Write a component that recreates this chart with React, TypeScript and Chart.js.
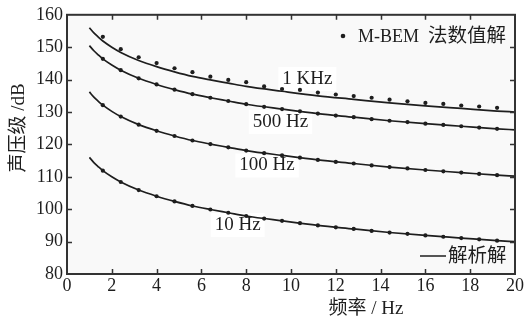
import React, { useEffect, useRef } from "react";
import { Chart, registerables } from "chart.js";

Chart.register(...registerables);

// Analytical solution (lines), frequency axis in Hz
const lineFreq = [1, 1.2, 1.4, 1.6, 2.0, 2.4, 3.2, 4.0, 4.8, 5.6, 6.4, 7.2, 8.0, 9.6, 11.2, 12.8, 14.4, 16.0, 17.6, 19.2, 20];
const line1k = [156.0, 154.4, 153.1, 151.9, 150.0, 148.4, 145.9, 144.0, 142.4, 141.0, 139.9, 138.9, 137.9, 136.4, 135.0, 133.9, 132.8, 131.9, 131.1, 130.3, 130.0];
const line500 = [150.5, 148.9, 147.6, 146.4, 144.5, 142.9, 140.4, 138.5, 136.9, 135.5, 134.4, 133.4, 132.4, 130.9, 129.5, 128.4, 127.3, 126.4, 125.6, 124.8, 124.5];
const line100 = [136.2, 134.6, 133.3, 132.1, 130.2, 128.6, 126.1, 124.2, 122.6, 121.2, 120.1, 119.1, 118.1, 116.6, 115.2, 114.1, 113.0, 112.1, 111.3, 110.5, 110.2];
const line10 = [116.0, 114.4, 113.1, 111.9, 110.0, 108.4, 105.9, 104.0, 102.4, 101.0, 99.9, 98.9, 97.9, 96.4, 95.0, 93.9, 92.8, 91.9, 91.1, 90.3, 90.0];

// M-BEM numerical solution (points)
const pointFreq = [1.6, 2.4, 3.2, 4.0, 4.8, 5.6, 6.4, 7.2, 8.0, 8.8, 9.6, 10.4, 11.2, 12.0, 12.8, 13.6, 14.4, 15.2, 16.0, 16.8, 17.6, 18.4, 19.2];
const pts1k = [153.2, 149.4, 146.9, 145.1, 143.5, 142.3, 140.9, 139.9, 139.2, 137.9, 137.1, 136.8, 136.0, 135.4, 134.9, 134.4, 133.8, 133.3, 132.8, 132.5, 132.0, 131.7, 131.3];
const pts500 = [146.4, 142.9, 140.4, 138.5, 136.9, 135.5, 134.4, 133.4, 132.4, 131.6, 130.9, 130.2, 129.5, 128.9, 128.4, 127.8, 127.3, 126.9, 126.4, 126.0, 125.6, 125.2, 124.8];
const pts100 = [132.1, 128.6, 126.1, 124.2, 122.6, 121.2, 120.1, 119.1, 118.1, 117.3, 116.6, 115.9, 115.2, 114.6, 114.1, 113.5, 113.0, 112.6, 112.1, 111.7, 111.3, 110.9, 110.5];
const pts10 = [111.9, 108.4, 105.9, 104.0, 102.4, 101.0, 99.9, 98.9, 97.9, 97.1, 96.4, 95.7, 95.0, 94.4, 93.9, 93.3, 92.8, 92.4, 91.9, 91.5, 91.1, 90.7, 90.3];

const seriesNames = ["1 KHz", "500 Hz", "100 Hz", "10 Hz"];
const xTickValues = [2, 4, 6, 8, 10, 12, 14, 16, 18];
const yTickValues = [90, 100, 110, 120, 130, 140, 150];

const xTitle = "频率 / Hz";
const yTitle = "声压级 /dB";
const legendPoints = ["M-BEM", "法数值解"];
const legendLine = "解析解";

// label anchors in data coordinates (x, y)
const labelAnchors = [
  [10.73, 140.2],
  [9.53, 126.9],
  [8.93, 113.5],
  [7.62, 95.1],
];

const SERIF = "'Liberation Serif', 'Noto Sans CJK SC', serif";
const INK = "#1e1e1e";

const toXY = (xs: number[], ys: number[]) => xs.map((x, i) => ({ x, y: ys[i] }));

export default function App() {
  const ref = useRef<HTMLCanvasElement | null>(null);

  useEffect(() => {
    document.body.style.margin = "0";
    const canvas = ref.current;
    if (!canvas) return;

    const lineSets = [line1k, line500, line100, line10].map((ys, i) => ({
      label: seriesNames[i] + " line",
      data: toXY(lineFreq, ys),
      showLine: true,
      borderColor: INK,
      borderWidth: 1.7,
      pointRadius: 0,
      cubicInterpolationMode: "monotone" as const,
      fill: false,
    }));
    const pointSets = [pts1k, pts500, pts100, pts10].map((ys, i) => ({
      label: seriesNames[i] + " pts",
      data: toXY(pointFreq, ys),
      showLine: false,
      pointRadius: 2.1,
      pointBackgroundColor: INK,
      pointBorderWidth: 0,
      borderColor: INK,
    }));

    const deco = {
      id: "deco",
      beforeDatasetsDraw(chart: any) {
        const { ctx, chartArea: a, scales } = chart;
        ctx.save();
        ctx.fillStyle = "#f9f9f9";
        ctx.fillRect(a.left, a.top, a.right - a.left, a.bottom - a.top);
        // white boxes behind series labels
        ctx.font = `19px ${SERIF}`;
        ctx.fillStyle = "#ffffff";
        labelAnchors.forEach(([lx, ly], i) => {
          const px = scales.x.getPixelForValue(lx);
          const py = scales.y.getPixelForValue(ly);
          const w = ctx.measureText(seriesNames[i]).width;
          ctx.fillRect(px - w / 2 - 4, py - 12, w + 8, 24);
        });
        ctx.restore();
      },
      afterDraw(chart: any) {
        const { ctx, chartArea: a, scales } = chart;
        ctx.save();
        // frame
        ctx.strokeStyle = "#333";
        ctx.lineWidth = 2;
        ctx.strokeRect(a.left, a.top, a.right - a.left, a.bottom - a.top);
        // inward ticks
        ctx.lineWidth = 1.5;
        ctx.beginPath();
        xTickValues.forEach((v) => {
          const px = Math.round(scales.x.getPixelForValue(v)) + 0.5;
          ctx.moveTo(px, a.bottom);
          ctx.lineTo(px, a.bottom - 5);
          ctx.moveTo(px, a.top);
          ctx.lineTo(px, a.top + 5);
        });
        yTickValues.forEach((v) => {
          const py = Math.round(scales.y.getPixelForValue(v)) + 0.5;
          ctx.moveTo(a.left, py);
          ctx.lineTo(a.left + 5, py);
          ctx.moveTo(a.right, py);
          ctx.lineTo(a.right - 5, py);
        });
        ctx.stroke();

        ctx.fillStyle = INK;
        ctx.textBaseline = "middle";
        // series labels
        ctx.font = `19px ${SERIF}`;
        ctx.textAlign = "center";
        labelAnchors.forEach(([lx, ly], i) => {
          ctx.fillText(seriesNames[i], scales.x.getPixelForValue(lx), scales.y.getPixelForValue(ly));
        });

        // legend: points
        ctx.beginPath();
        ctx.arc(343, 36, 2.3, 0, Math.PI * 2);
        ctx.fill();
        ctx.textAlign = "left";
        ctx.font = `18px ${SERIF}`;
        ctx.fillText(legendPoints[0], 358, 37);
        ctx.font = `19.5px ${SERIF}`;
        ctx.fillText(legendPoints[1], 428, 37);

        // legend: line
        ctx.strokeStyle = INK;
        ctx.lineWidth = 1.5;
        ctx.beginPath();
        ctx.moveTo(420, 256);
        ctx.lineTo(446, 256);
        ctx.stroke();
        ctx.font = `19.5px ${SERIF}`;
        ctx.fillText(legendLine, 448, 257);

        // axis titles
        ctx.font = `19px ${SERIF}`;
        ctx.textAlign = "center";
        ctx.fillText(xTitle, 366, 309);
        ctx.translate(19, 128);
        ctx.rotate(-Math.PI / 2);
        ctx.fillText(yTitle, 0, 0);
        ctx.restore();
      },
    };

    const chart = new Chart(canvas, {
      type: "scatter",
      data: { datasets: [...lineSets, ...pointSets] as any },
      options: {
        animation: false,
        responsive: false,
        events: [],
        layout: { padding: { top: 14, right: 9, left: 0, bottom: 0 } },
        plugins: { legend: { display: false }, tooltip: { enabled: false } },
        scales: {
          x: {
            type: "linear",
            min: 0,
            max: 20,
            grid: { display: false, drawTicks: false },
            border: { display: false },
            ticks: {
              stepSize: 2,
              padding: 1,
              color: INK,
              font: { family: SERIF, size: 18 },
              maxRotation: 0,
            },
            afterFit: (s: any) => {
              s.height = 49;
            },
          },
          y: {
            type: "linear",
            min: 80,
            max: 160,
            grid: { display: false, drawTicks: false },
            border: { display: false },
            ticks: {
              stepSize: 10,
              padding: 4,
              color: INK,
              font: { family: SERIF, size: 18 },
            },
            afterFit: (s: any) => {
              s.width = 67;
            },
          },
        },
      },
      plugins: [deco],
    });

    return () => chart.destroy();
  }, []);

  return (
    <div style={{ width: 525, height: 323 }}>
      <canvas ref={ref} width={525} height={323} />
    </div>
  );
}
